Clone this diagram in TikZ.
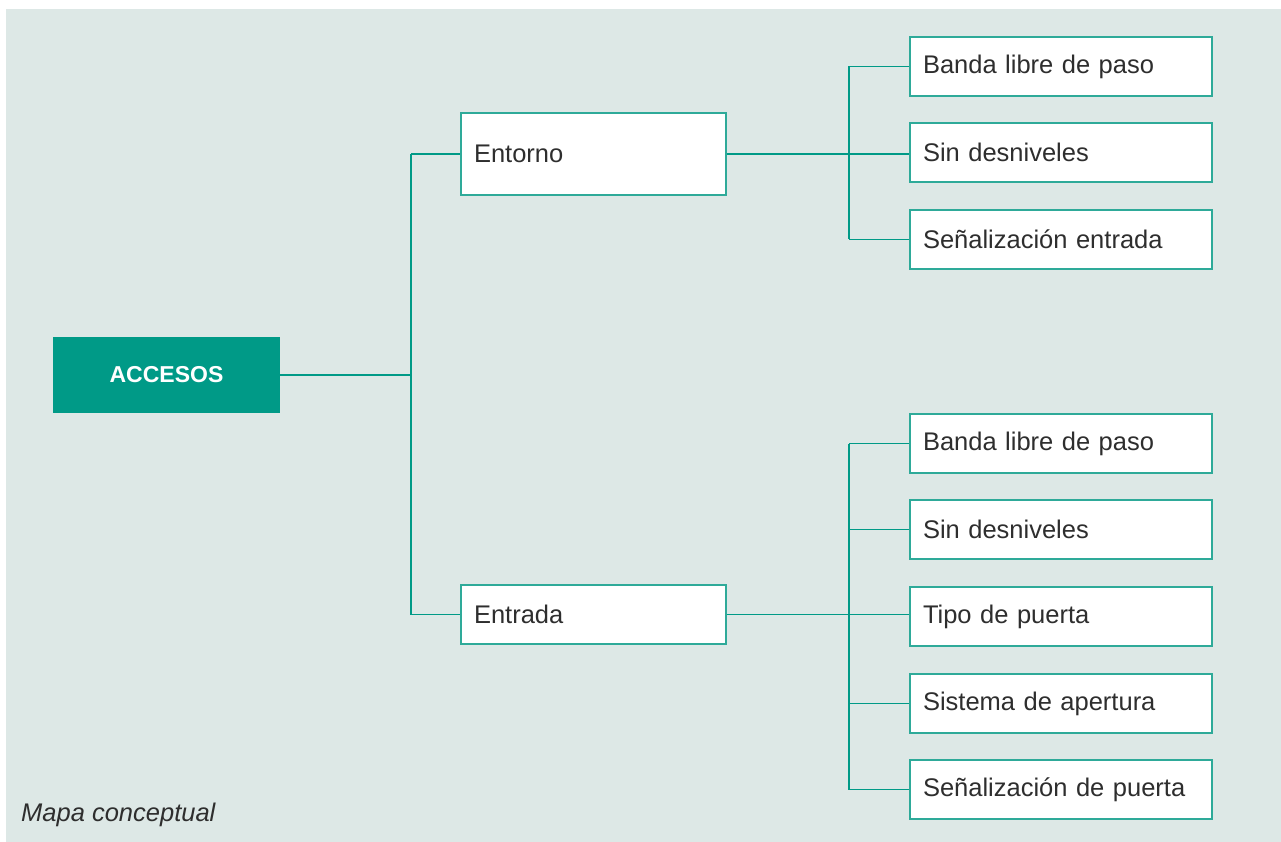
\documentclass[tikz,border=0pt]{standalone}
\usepackage{fontspec}
\setmainfont{Liberation Sans}
\definecolor{bgc}{HTML}{DDE8E6}
\definecolor{teal1}{HTML}{009A87}
\definecolor{boxc}{HTML}{2EAA99}
\definecolor{txtc}{HTML}{2E2E2E}
\begin{document}
\begin{tikzpicture}[x=1pt,y=-1pt,
  mbox/.style={draw=boxc, fill=white, line width=1.6pt, inner xsep=13pt, inner ysep=0pt,
    align=left, text=txtc, font=\fontsize{25.5}{30}\selectfont, minimum height=59pt},
  rbox/.style={mbox, text width=276pt},
  mid/.style={mbox, text width=239pt},
  rootbox/.style={fill=teal1, text=white, minimum width=227pt, minimum height=76pt,
    inner sep=0pt, font=\fontsize{23}{28}\selectfont\bfseries},
  conn/.style={draw=teal1, line width=1.8pt},
  trunk/.style={draw=teal1, line width=2.6pt}]
\useasboundingbox (0,0) rectangle (1281,842);
\fill[bgc] (6,9) rectangle (1281,842);

\coordinate (jA) at (411,0);
\coordinate (jB) at (849,0);

% connectors first, boxes on top
\coordinate (accE) at (280,375);
\coordinate (entW) at (461,154);
\coordinate (entrW) at (461,614.5);

\node[rootbox] (acc) at (166.5,375) {ACCESOS};
\node[mid, minimum height=82pt] (ent) at (593.5,154) {Entorno};
\node[mid] (entr) at (593.5,614.5) {Entrada};

\node[rbox] (a1) at (1061,66.5) {Banda libre de paso};
\node[rbox] (a2) at (1061,152.5) {Sin desniveles};
\node[rbox] (a3) at (1061,239.5) {Señalización entrada};

\node[rbox] (b1) at (1061,443.5) {Banda libre de paso};
\node[rbox] (b2) at (1061,529.5) {Sin desniveles};
\node[rbox] (b3) at (1061,616.5) {Tipo de puerta};
\node[rbox] (b4) at (1061,703.5) {Sistema de apertura};
\node[rbox] (b5) at (1061,789.5) {Señalización de puerta};

\node[anchor=west, inner sep=0pt, text=txtc, font=\fontsize{25.5}{30}\selectfont\itshape] (cap) at (21,815) {Mapa conceptual};

% level 1
\draw[conn] (acc.east) -- (acc.east -| jA);
\draw[trunk] (ent.west -| jA) -- (entr.west -| jA);
\draw[conn] (ent.west -| jA) -- (ent.west);
\draw[conn] (entr.west -| jA) -- (entr.west);

% top group
\draw[trunk] (a1.west -| jB) -- (a3.west -| jB);
\draw[conn] (a1.west -| jB) -- (a1.west);
\draw[conn] (a3.west -| jB) -- (a3.west);
\draw[conn] (ent.east) -- (ent.east -| a2.west);

% bottom group
\draw[trunk] (b1.west -| jB) -- (b5.west -| jB);
\draw[conn] (b1.west -| jB) -- (b1.west);
\draw[conn] (b2.west -| jB) -- (b2.west);
\draw[conn] (b4.west -| jB) -- (b4.west);
\draw[conn] (b5.west -| jB) -- (b5.west);
\draw[conn] (entr.east) -- (entr.east -| b3.west);
\end{tikzpicture}
\end{document}
